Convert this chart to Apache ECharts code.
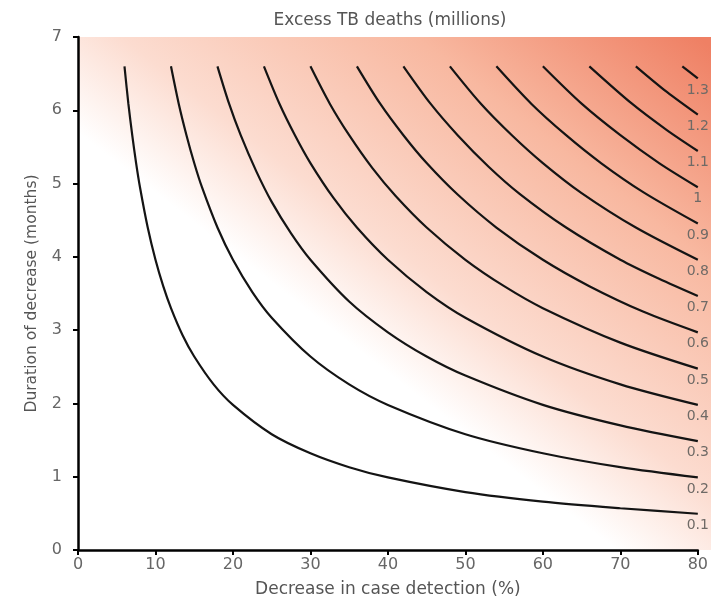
<!DOCTYPE html>
<html>
<head>
<meta charset="utf-8">
<script src="https://cdn.jsdelivr.net/npm/echarts@6/dist/echarts.min.js"></script>
<style>html,body{margin:0;padding:0;background:#fff;}#c{width:711px;height:603px;}</style>
</head>
<body>
<div id="c"></div>
<script>
// Axis ticks
const xTicks = [0, 10, 20, 30, 40, 50, 60, 70, 80];
const yTicks = [0, 1, 2, 3, 4, 5, 6, 7];

// Contour labels (excess TB deaths, millions)
const levelLabels = ['0.1', '0.2', '0.3', '0.4', '0.5', '0.6', '0.7', '0.8', '0.9', '1', '1.1', '1.2', '1.3'];

// Contour lines: [decrease in case detection %, duration months]
const c01 = [[6,6.6],[6.5,6.09],[7,5.66],[7.5,5.28],[8,4.95],[9,4.4],[10,3.96],[11,3.6],[12,3.3],[13.5,2.93],[15,2.64],[17.5,2.26],[20,1.98],[25,1.58],[30,1.32],[35,1.13],[40,0.99],[50,0.79],[60,0.66],[70,0.57],[80,0.495]];
const c02 = [[12,6.6],[13,6.09],[14,5.66],[15,5.28],[16,4.95],[18,4.4],[20,3.96],[22.5,3.52],[25,3.17],[30,2.64],[35,2.26],[40,1.98],[50,1.58],[60,1.32],[70,1.13],[80,0.99]];
const c03 = [[18,6.6],[19.5,6.09],[21,5.66],[23,5.17],[25,4.75],[27.5,4.32],[30,3.96],[35,3.39],[40,2.97],[45,2.64],[50,2.38],[60,1.98],[70,1.7],[80,1.485]];
const c04 = [[24,6.6],[26,6.09],[28,5.66],[30,5.28],[33,4.8],[36,4.4],[40,3.96],[45,3.52],[50,3.17],[60,2.64],[70,2.26],[80,1.98]];
const c05 = [[30,6.6],[32.5,6.09],[35,5.66],[38,5.21],[41,4.83],[45,4.4],[50,3.96],[55,3.6],[60,3.3],[70,2.83],[80,2.475]];
const c06 = [[36,6.6],[39,6.09],[42,5.66],[45,5.28],[49,4.85],[54,4.4],[60,3.96],[66,3.6],[73,3.25],[80,2.97]];
const c07 = [[42,6.6],[45.5,6.09],[49,5.66],[53,5.23],[57,4.86],[63,4.4],[70,3.96],[75,3.7],[80,3.465]];
const c08 = [[48,6.6],[52,6.09],[56,5.66],[60,5.28],[65,4.87],[72,4.4],[80,3.96]];
const c09 = [[54,6.6],[58.5,6.09],[63,5.66],[67.5,5.28],[73,4.88],[80,4.455]];
const c10 = [[60,6.6],[65,6.09],[70,5.66],[75,5.28],[80,4.95]];
const c11 = [[66,6.6],[71.5,6.09],[76,5.73],[80,5.445]];
const c12 = [[72,6.6],[76,6.25],[80,5.94]];
const c13 = [[78,6.6],[80,6.435]];
const contours = [c01, c02, c03, c04, c05, c06, c07, c08, c09, c10, c11, c12, c13];

const FONT = 'DejaVu Sans';
const chart = echarts.init(document.getElementById('c'), null, {renderer: 'canvas'});

const series = contours.map((pts, i) => ({
  type: 'line',
  data: pts.map((p, j) => j === pts.length - 1
    ? {value: p, label: {show: true, formatter: levelLabels[i]}}
    : {value: p}),
  smooth: 0.3,
  showSymbol: true,
  symbol: 'circle',
  symbolSize: 1,
  itemStyle: {color: 'rgba(0,0,0,0)'},
  lineStyle: {color: '#141414', width: 2.2},
  label: {show: false, position: 'bottom', distance: 4, color: '#6f6a66', fontFamily: FONT, fontSize: 14},
  clip: false,
  silent: true,
  z: 3
}));

chart.setOption({
  animation: false,
  backgroundColor: '#fff',
  title: {
    text: 'Excess TB deaths (millions)',
    left: 390, top: 12, textAlign: 'center', padding: 0,
    textStyle: {fontFamily: FONT, fontSize: 17, fontWeight: 'normal', color: '#555'}
  },
  grid: {left: 78, right: 10, top: 37, bottom: 50, containLabel: false},
  xAxis: {
    type: 'value', min: xTicks[0], max: xTicks[xTicks.length - 1], interval: 10,
    name: 'Decrease in case detection (%)', nameLocation: 'middle', nameGap: 31,
    nameTextStyle: {fontFamily: FONT, fontSize: 17, color: '#555'},
    axisLine: {show: true, lineStyle: {color: '#000', width: 2.5}},
    axisTick: {show: true, length: 5, lineStyle: {color: '#000', width: 2}},
    axisLabel: {fontFamily: FONT, fontSize: 16, color: '#666', margin: 7},
    splitLine: {show: false}
  },
  yAxis: {
    type: 'value', min: yTicks[0], max: yTicks[yTicks.length - 1], interval: 1,
    name: 'Duration of decrease (months)', nameLocation: 'middle', nameGap: 38,
    nameTextStyle: {fontFamily: FONT, fontSize: 15.5, color: '#555'},
    axisLine: {show: true, lineStyle: {color: '#000', width: 2.5}},
    axisTick: {show: true, length: 5, lineStyle: {color: '#000', width: 2}},
    axisLabel: {fontFamily: FONT, fontSize: 16, color: '#666', margin: 16},
    splitLine: {show: false}
  },
  series: series
});

// Background gradient covering the plotting area (extends to the right edge)
const bl = chart.convertToPixel({xAxisIndex: 0, yAxisIndex: 0}, [xTicks[0], yTicks[0]]);
const tr = chart.convertToPixel({xAxisIndex: 0, yAxisIndex: 0}, [xTicks[xTicks.length - 1], yTicks[yTicks.length - 1]]);
const W = chart.getWidth();
const rx = bl[0], ry = tr[1], rw = W - bl[0], rh = bl[1] - tr[1];
chart.setOption({
  graphic: [{
    type: 'rect', silent: true, z: -10, zlevel: 0,
    shape: {x: rx, y: ry, width: rw, height: rh},
    style: {
      fill: {
        type: 'linear', global: true,
        x: rx, y: ry + rh, x2: rx + rw * 0.76, y2: ry + rh - rh * 1.21,
        colorStops: [
          {offset: 0, color: '#ffffff'},
          {offset: 0.42, color: '#ffffff'},
          {offset: 0.55, color: '#fcdcd0'},
          {offset: 0.78, color: '#f8b8a0'},
          {offset: 1, color: '#ef8064'}
        ]
      }
    }
  }]
});
</script>
</body>
</html>
